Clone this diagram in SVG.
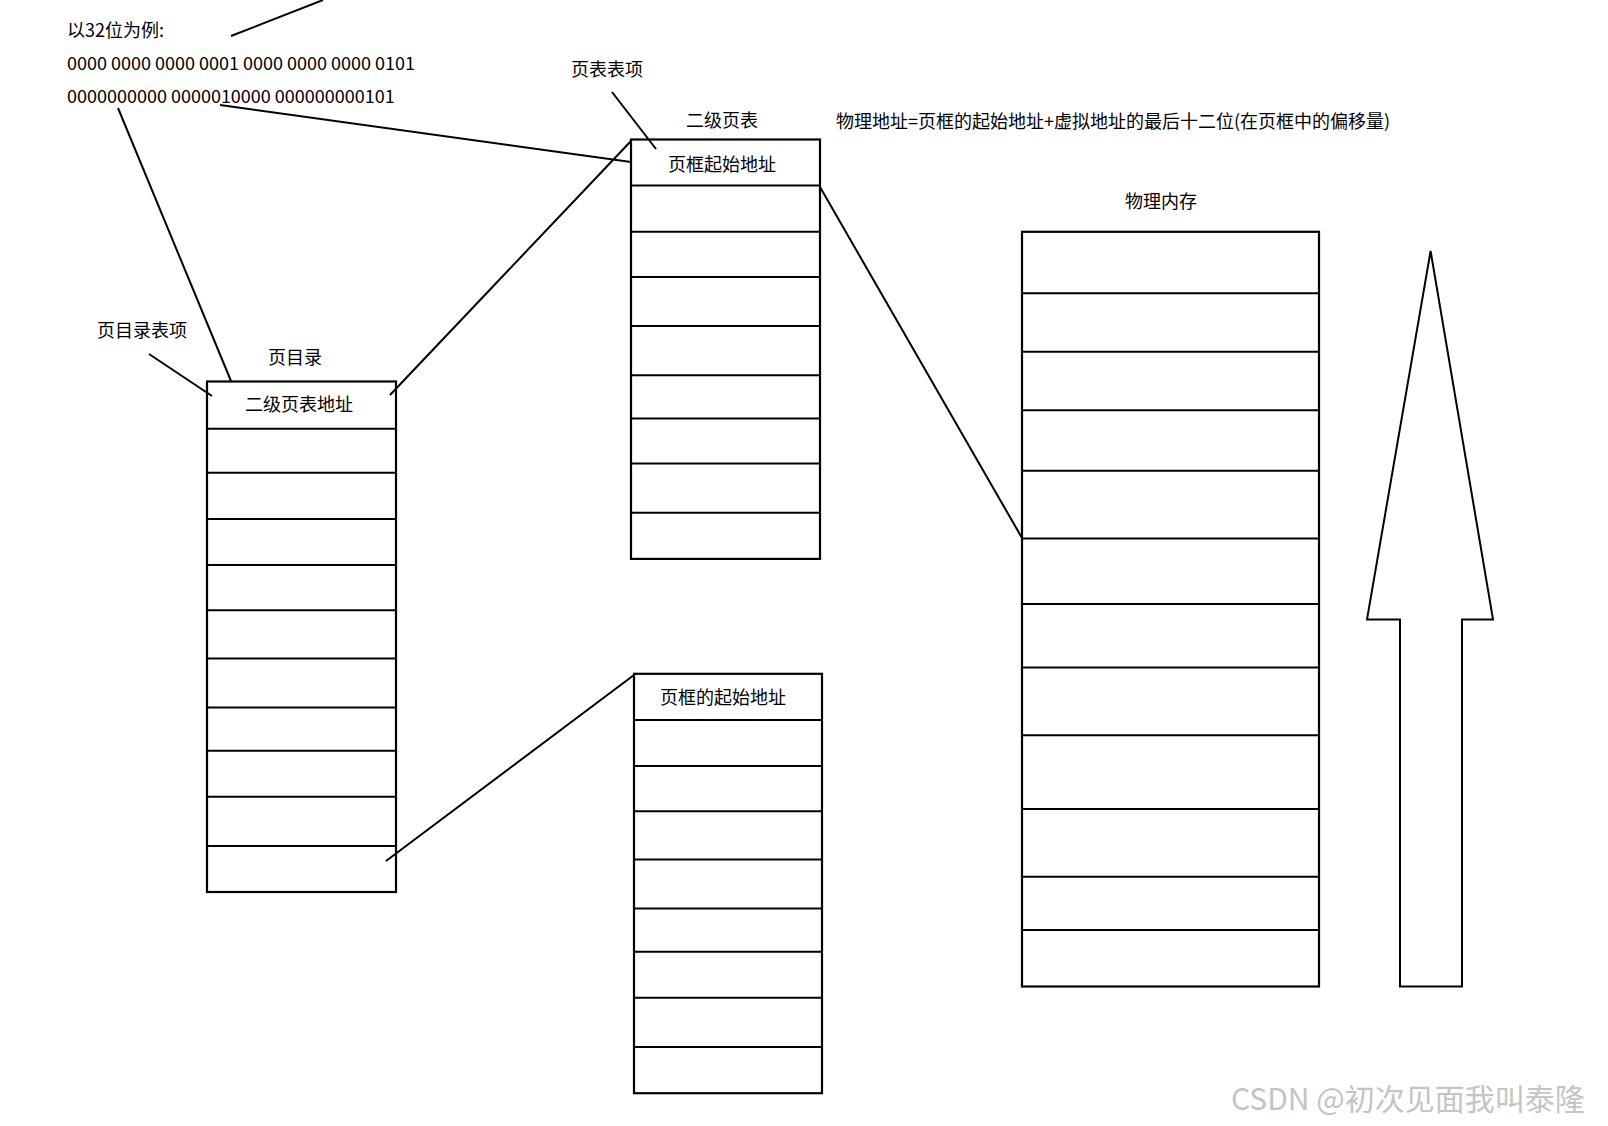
<svg xmlns="http://www.w3.org/2000/svg" width="1608" height="1126" viewBox="0 0 1608 1126">
<style>
text{font-family:"Noto Sans CJK SC","Noto Sans",sans-serif;font-size:18px;fill:#000}
.b{fill:#fff;stroke:#000;stroke-width:2.2}
.r{stroke:#000;stroke-width:2}
.c{stroke:#000;stroke-width:2;fill:none}
.m{text-anchor:middle}
</style>
<rect width="1608" height="1126" fill="#fff"/>
<g id="labels">
<text x="67" y="37">以32位为例:</text>
<text x="67" y="70">0000 0000 0000 0001 0000 0000 0000 0101</text>
<text x="67" y="103">0000000000 0000010000 000000000101</text>
<text x="571" y="76">页表表项</text>
<text x="722" y="127" class="m">二级页表</text>
<text x="836" y="128">物理地址=页框的起始地址+虚拟地址的最后十二位(在页框中的偏移量)</text>
<text x="1161" y="208" class="m">物理内存</text>
<text x="97" y="337">页目录表项</text>
<text x="295" y="364" class="m">页目录</text>
<text x="1231" y="1110" style="font-size:30px;fill:#c4c4c4">CSDN @初次见面我叫泰隆</text>
</g>
<g id="page-dir">
<rect class="b" x="207" y="381.5" width="189" height="510.5"/>
<path class="r" d="M207 428.7H396M207 472.8H396M207 518.9H396M207 565H396M207 610.2H396M207 658.4H396M207 707.6H396M207 750.7H396M207 796.8H396M207 846H396"/>
<text x="299" y="411" class="m">二级页表地址</text>
</g>
<g id="page-table-2">
<rect class="b" x="631" y="139.5" width="189" height="419.4"/>
<path class="r" d="M631 185.6H820M631 231.8H820M631 276.9H820M631 326.1H820M631 375.3H820M631 418.4H820M631 463.5H820M631 512.8H820"/>
<text x="722" y="171" class="m">页框起始地址</text>
</g>
<g id="page-table-3">
<rect class="b" x="634" y="673.8" width="188" height="419.4"/>
<path class="r" d="M634 719.9H822M634 766H822M634 811.2H822M634 859.4H822M634 908.6H822M634 951.7H822M634 997.8H822M634 1047H822"/>
<text x="723" y="704" class="m">页框的起始地址</text>
</g>
<g id="memory">
<rect class="b" x="1022" y="231.8" width="297" height="754.7"/>
<path class="r" d="M1022 293.3H1319M1022 351.7H1319M1022 410.2H1319M1022 470.7H1319M1022 538.4H1319M1022 604H1319M1022 667.6H1319M1022 735.3H1319M1022 809.1H1319M1022 876.8H1319M1022 930.1H1319"/>
</g>
<g id="arrow">
<path class="c" d="M1430.6 251L1367 619.4H1400V986.5H1462V619.4H1493Z"/>
</g>
<g id="connectors" class="c">
<path class="c" d="M231 36L323 0"/>
<path class="c" d="M118 108L231 381"/>
<path class="c" d="M220 105L631 162"/>
<path class="c" d="M612 92L656 149"/>
<path class="c" d="M820 187L1022 538"/>
<path class="c" d="M390 395L631 141"/>
<path class="c" d="M149 354L212 396"/>
<path class="c" d="M386 861L634 675"/>
</g>
</svg>
